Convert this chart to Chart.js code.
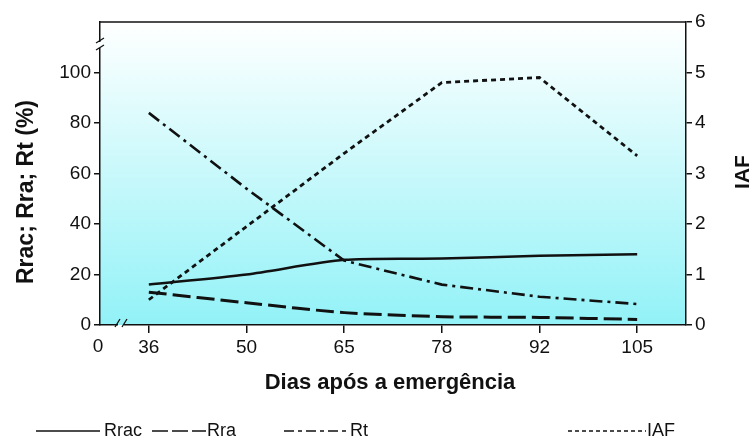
<!DOCTYPE html>
<html>
<head>
<meta charset="utf-8">
<script src="https://cdn.jsdelivr.net/npm/chart.js@4/dist/chart.umd.min.js"></script>
<style>
  html, body { margin: 0; padding: 0; background: #ffffff; }
  #wrap { width: 754px; height: 443px; }
</style>
</head>
<body>
<div id="wrap"><canvas id="c" width="754" height="443"></canvas></div>
<script>
// Days after emergence (category axis) and measured series
const days = ['36', '50', '65', '78', '92', '105'];
const rrac = [16, 20, 25.8, 26.3, 27.4, 28];
const rra  = [13, 8.8, 4.9, 3.3, 3.0, 2.2];
const rt   = [84, 54, 25.5, 16, 11.2, 8.3];
const iaf  = [0.5, 1.95, 3.4, 4.8, 4.9, 3.35];

// Tick values shown on each vertical axis
const leftTicks  = [0, 20, 40, 60, 80, 100];
const rightTicks = [0, 1, 2, 3, 4, 5, 6];

const xTitle  = 'Dias após a emergência';
const yTitle  = 'Rrac; Rra; Rt (%)';
const y1Title = 'IAF';
const originLabel = '0';

const FONT = '"Liberation Sans", Arial, Helvetica, sans-serif';
const INK = '#111111';

// Legend entries: label, dash pattern and sample position
const legendItems = [
  { label: 'Rrac', dash: [],            x1: 36,  x2: 100, gap: 4 },
  { label: 'Rra',  dash: [16, 4],       x1: 152, x2: 206, gap: 1 },
  { label: 'Rt',   dash: [10, 4, 4, 4], x1: 284, x2: 346, gap: 4 },
  { label: 'IAF',  dash: [4, 3],        x1: 568, x2: 646, gap: 1 }
];

// Vertical white-to-cyan fill behind the plot
const plotBackground = {
  id: 'plotBackground',
  beforeDraw(chart) {
    const { ctx, chartArea: a } = chart;
    const g = ctx.createLinearGradient(0, a.top, 0, a.bottom);
    g.addColorStop(0, '#ffffff');
    g.addColorStop(1, '#92f2f7');
    ctx.save();
    ctx.fillStyle = g;
    ctx.fillRect(a.left, a.top, a.right - a.left, a.bottom - a.top);
    ctx.restore();
  }
};

// Frame top edge, axis breaks, titles, origin label and legend
const decorations = {
  id: 'decorations',
  afterDraw(chart) {
    const { ctx, chartArea: a } = chart;
    ctx.save();
    // top edge of the frame
    ctx.strokeStyle = INK;
    ctx.lineWidth = 1.5;
    ctx.beginPath();
    ctx.moveTo(a.left, a.top);
    ctx.lineTo(a.right, a.top);
    ctx.stroke();

    // break on the left axis
    const by = a.top + 22;
    ctx.fillStyle = '#fbffff';
    ctx.fillRect(a.left - 2, by - 2, 4, 6);
    ctx.beginPath();
    ctx.moveTo(a.left - 4, by - 1); ctx.lineTo(a.left + 4, by - 6);
    ctx.moveTo(a.left - 4, by + 6); ctx.lineTo(a.left + 4, by + 1);
    ctx.lineWidth = 1.3;
    ctx.stroke();

    // break on the bottom axis
    const bx = a.left + 21;
    ctx.fillStyle = '#92f2f7';
    ctx.fillRect(bx - 3, a.bottom - 2, 6, 2);
    ctx.fillStyle = '#ffffff';
    ctx.fillRect(bx - 3, a.bottom, 6, 2);
    ctx.beginPath();
    ctx.moveTo(bx - 6, a.bottom + 2); ctx.lineTo(bx - 1, a.bottom - 6);
    ctx.moveTo(bx + 1, a.bottom + 2); ctx.lineTo(bx + 6, a.bottom - 6);
    ctx.stroke();

    // origin label of the day axis
    ctx.fillStyle = INK;
    ctx.font = '19px ' + FONT;
    ctx.textAlign = 'center';
    ctx.textBaseline = 'middle';
    ctx.fillText(originLabel, a.left - 2, 347);

    // axis titles
    ctx.font = 'bold 22px ' + FONT;
    ctx.fillText(xTitle, 390, 383);
    ctx.save();
    ctx.translate(27, 192);
    ctx.rotate(-Math.PI / 2);
    ctx.font = 'bold 23px ' + FONT;
    ctx.fillText(yTitle, 0, 0);
    ctx.restore();
    ctx.save();
    ctx.translate(743, 172);
    ctx.rotate(-Math.PI / 2);
    ctx.font = 'bold 21px ' + FONT;
    ctx.fillText(y1Title, 0, 0);
    ctx.restore();

    // legend
    const ly = 431;
    ctx.font = '18px ' + FONT;
    ctx.textAlign = 'left';
    legendItems.forEach(it => {
      ctx.strokeStyle = INK;
      ctx.lineWidth = 1.6;
      ctx.setLineDash(it.dash);
      ctx.beginPath();
      ctx.moveTo(it.x1, ly);
      ctx.lineTo(it.x2, ly);
      ctx.stroke();
      ctx.setLineDash([]);
      ctx.fillText(it.label, it.x2 + it.gap, ly);
    });
    ctx.restore();
  }
};

const tickFont = { family: FONT, size: 19 };

new Chart(document.getElementById('c'), {
  type: 'line',
  data: {
    labels: days,
    datasets: [
      { label: 'Rrac', data: rrac, yAxisID: 'y', borderColor: INK, borderWidth: 2.5,
        borderDash: [], tension: 0.25, pointRadius: 0 },
      { label: 'Rra', data: rra, yAxisID: 'y', borderColor: INK, borderWidth: 3,
        borderDash: [18, 6], tension: 0.25, pointRadius: 0 },
      { label: 'Rt', data: rt, yAxisID: 'y', borderColor: INK, borderWidth: 2.6,
        borderDash: [13, 5, 3, 5], tension: 0, pointRadius: 0 },
      { label: 'IAF', data: iaf, yAxisID: 'y1', borderColor: INK, borderWidth: 2.8,
        borderDash: [5, 4], tension: 0, pointRadius: 0 }
    ]
  },
  options: {
    responsive: false,
    devicePixelRatio: 1,
    animation: false,
    layout: { padding: { left: 0, right: 0, top: 22, bottom: 0 } },
    plugins: { legend: { display: false }, tooltip: { enabled: false } },
    scales: {
      x: {
        type: 'category',
        offset: true,
        grid: { drawOnChartArea: false, drawTicks: true, tickLength: 8, color: INK, lineWidth: 1.5 },
        border: { display: true, color: INK, width: 1.5 },
        ticks: { color: INK, font: tickFont, padding: 3, maxRotation: 0 },
        afterFit(s) { s.height = 118; }
      },
      y: {
        position: 'left',
        min: 0, max: 120,
        afterBuildTicks(s) { s.ticks = leftTicks.map(v => ({ value: v })); },
        grid: { drawOnChartArea: false, drawTicks: true, tickLength: 6, color: INK, lineWidth: 1.5 },
        border: { display: true, color: INK, width: 1.5 },
        ticks: { color: INK, font: tickFont, padding: 3 },
        afterFit(s) { s.width = 100; }
      },
      y1: {
        position: 'right',
        min: 0, max: 6,
        afterBuildTicks(s) { s.ticks = rightTicks.map(v => ({ value: v })); },
        grid: { drawOnChartArea: false, drawTicks: true, tickLength: 6, color: INK, lineWidth: 1.5 },
        border: { display: true, color: INK, width: 1.5 },
        ticks: { color: INK, font: tickFont, padding: 3 },
        afterFit(s) { s.width = 68; }
      }
    }
  },
  plugins: [plotBackground, decorations]
});
</script>
</body>
</html>
